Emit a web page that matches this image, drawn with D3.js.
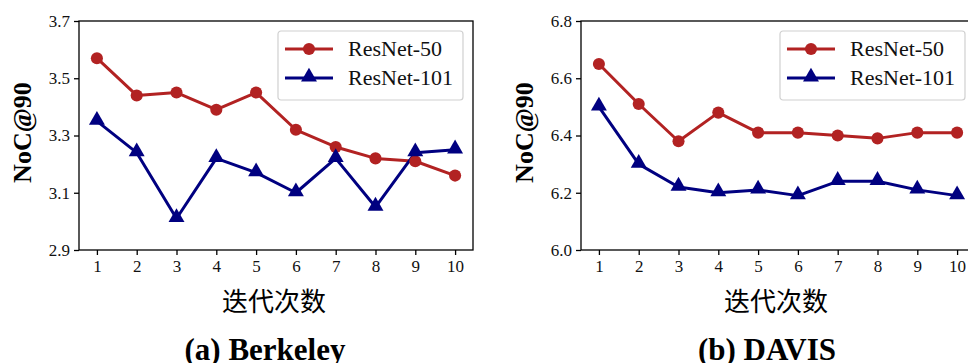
<!DOCTYPE html>
<html>
<head>
<meta charset="utf-8">
<script src="https://cdn.jsdelivr.net/npm/d3@7"></script>
<style>
  body { margin: 0; background: #fff; }
  svg { display: block; }
</style>
</head>
<body>
<div id="plot"></div>
<script>
const iterations = [1, 2, 3, 4, 5, 6, 7, 8, 9, 10];
const seriesNames = ["ResNet-50", "ResNet-101"];

const berkeley50 = [3.57, 3.44, 3.45, 3.39, 3.45, 3.32, 3.26, 3.22, 3.21, 3.16];
const berkeley101 = [3.35, 3.24, 3.01, 3.22, 3.17, 3.10, 3.22, 3.05, 3.24, 3.25];
const berkeleyTicks = [2.9, 3.1, 3.3, 3.5, 3.7];

const davis50 = [6.65, 6.51, 6.38, 6.48, 6.41, 6.41, 6.40, 6.39, 6.41, 6.41];
const davis101 = [6.50, 6.30, 6.22, 6.20, 6.21, 6.19, 6.24, 6.24, 6.21, 6.19];
const davisTicks = [6.0, 6.2, 6.4, 6.6, 6.8];

const colors = ["#b22222", "#000080"];
const serif = "'Liberation Serif', 'Times New Roman', serif";

const svg = d3.select("#plot")
  .append("svg")
    .attr("width", 968)
    .attr("height", 363);

function panel(left, right, yTicks, s50, s101, caption, captionX) {
  const top = 21, bottom = 250;

  const x = d3.scaleLinear()
    .domain([0.55, 10.45])
    .range([left, right]);

  const y = d3.scaleLinear()
    .domain([yTicks[0], yTicks[yTicks.length - 1]])
    .range([bottom, top]);

  const g = svg.append("g");

  // frame
  g.append("rect")
    .attr("x", left)
    .attr("y", top)
    .attr("width", right - left)
    .attr("height", bottom - top)
    .attr("fill", "none")
    .attr("stroke", "#000")
    .attr("stroke-width", 1.3);

  const xAxis = g.append("g")
    .attr("transform", `translate(0,${bottom})`)
    .call(d3.axisBottom(x).tickValues(iterations).tickFormat(d3.format("d")).tickSize(5).tickPadding(5));

  const yAxis = g.append("g")
    .attr("transform", `translate(${left},0)`)
    .call(d3.axisLeft(y).tickValues(yTicks).tickFormat(d3.format(".1f")).tickSize(5).tickPadding(4));

  [xAxis, yAxis].forEach(a => {
    a.select(".domain").remove();
    a.selectAll(".tick line").attr("stroke", "#000").attr("stroke-width", 1.3);
    a.selectAll("text")
      .style("font-family", serif)
      .style("font-size", "17px")
      .attr("fill", "#111");
  });

  const line = d3.line()
    .x((d, i) => x(iterations[i]))
    .y(d => y(d));

  [s50, s101].forEach((vals, k) => {
    g.append("path")
      .datum(vals)
      .attr("d", line)
      .attr("fill", "none")
      .attr("stroke", colors[k])
      .attr("stroke-width", 3)
      .attr("stroke-linejoin", "round");
  });

  const circle = d3.symbol().type(d3.symbolCircle).size(115);
  const tri = d3.symbol().type(d3.symbolTriangle).size(110);

  g.selectAll(".m50")
    .data(s50)
    .enter()
    .append("path")
      .attr("class", "m50")
      .attr("d", circle)
      .attr("transform", (d, i) => `translate(${x(iterations[i])},${y(d)})`)
      .attr("fill", colors[0]);

  g.selectAll(".m101")
    .data(s101)
    .enter()
    .append("path")
      .attr("class", "m101")
      .attr("d", tri)
      .attr("transform", (d, i) => `translate(${x(iterations[i])},${y(d) - 1})`)
      .attr("fill", colors[1]);

  // y label
  g.append("text")
    .attr("transform", `translate(${left - 48},${(top + bottom) / 2 - 3}) rotate(-90)`)
    .attr("text-anchor", "middle")
    .style("font-family", serif)
    .style("font-weight", "bold")
    .style("font-size", "26px")
    .text("NoC@90");

  // x label
  g.append("text")
    .attr("x", (left + right) / 2 - 2)
    .attr("y", 311)
    .attr("text-anchor", "middle")
    .style("font-family", "'Noto Sans CJK SC', sans-serif")
    .style("font-size", "26px")
    .text("迭代次数");

  // caption
  g.append("text")
    .attr("x", captionX)
    .attr("y", 360)
    .attr("text-anchor", "middle")
    .style("font-family", serif)
    .style("font-weight", "bold")
    .style("font-size", "31px")
    .text(caption);

  // legend
  const lx = x(5.55), ly = 31;
  const key = g.append("g").attr("transform", `translate(${lx},${ly})`);
  key.append("rect")
    .attr("x", 0)
    .attr("y", 0)
    .attr("width", 185)
    .attr("height", 69)
    .attr("rx", 3)
    .attr("fill", "#fff")
    .attr("fill-opacity", 0.8)
    .attr("stroke", "#d0d0d0")
    .attr("stroke-width", 1.2);

  seriesNames.forEach((name, k) => {
    const yy = 18 + k * 29;
    key.append("line")
      .attr("x1", 7)
      .attr("x2", 55)
      .attr("y1", yy)
      .attr("y2", yy)
      .attr("stroke", colors[k])
      .attr("stroke-width", 3);
    key.append("path")
      .attr("d", k === 0 ? circle : tri)
      .attr("transform", `translate(31,${yy - (k === 0 ? 0 : 1)})`)
      .attr("fill", colors[k]);
    key.append("text")
      .attr("x", 70)
      .attr("y", yy + 7)
      .style("font-family", serif)
      .style("font-size", "22px")
      .attr("fill", "#111")
      .text(name);
  });
}

panel(79, 473, berkeleyTicks, berkeley50, berkeley101, "(a) Berkeley", 265);
panel(581, 975, davisTicks, davis50, davis101, "(b) DAVIS", 767);
</script>
</body>
</html>
